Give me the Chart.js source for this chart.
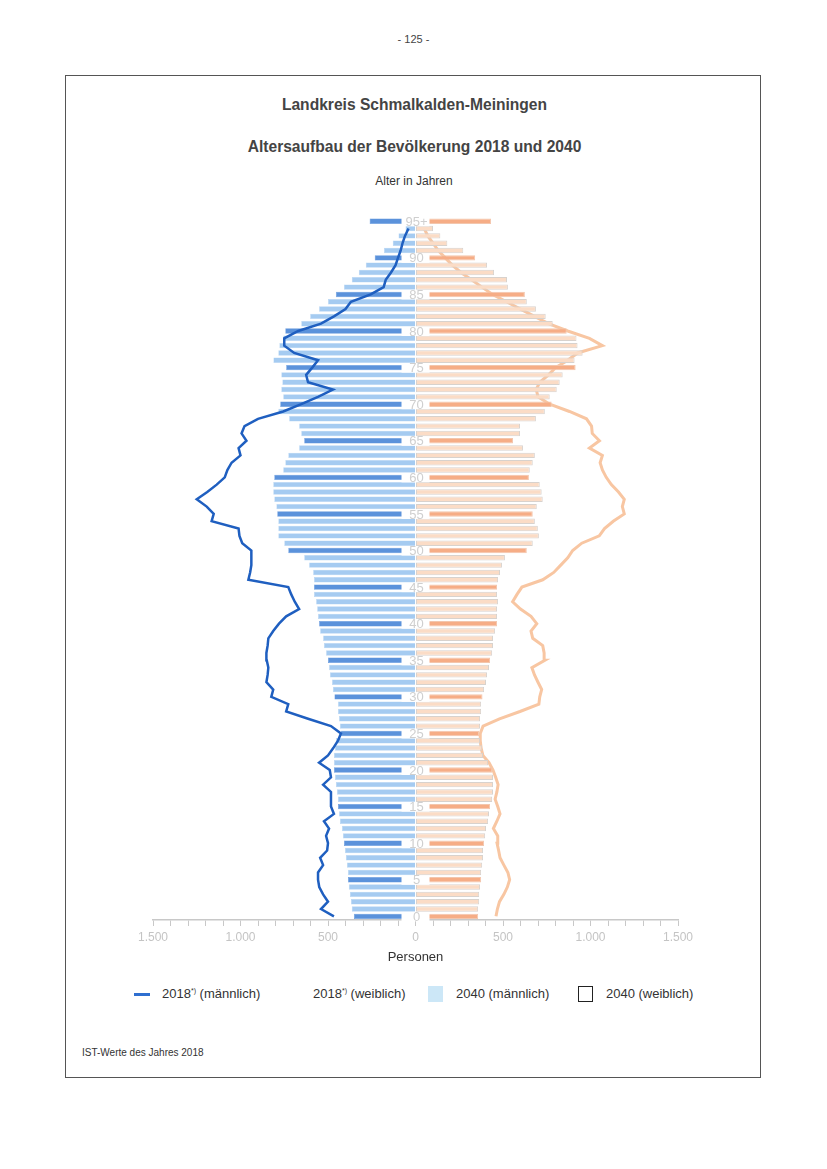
<!DOCTYPE html>
<html lang="de">
<head>
<meta charset="utf-8">
<title>Altersaufbau Schmalkalden-Meiningen</title>
<script src="https://cdn.jsdelivr.net/npm/chart.js@4.4.1/dist/chart.umd.min.js"></script>
<style>
  body { margin: 0; width: 827px; height: 1169px; position: relative; background: #fff;
         font-family: "Liberation Sans", Arial, sans-serif; color: #3a3a3a; }
  .abs { position: absolute; white-space: nowrap; }
  #page { left: 0; width: 827px; top: 33px; text-align: center; font-size: 11px; color: #444; }
  #frame { left: 65px; top: 75px; width: 694px; height: 1001px; border: 1px solid #555; }
  .title { left: 0; width: 829px; text-align: center; font-weight: bold; font-size: 15.6px; color: #444; }
  #sub { left: 0; width: 828px; top: 174px; text-align: center; font-size: 12px; color: #333; }
  #chartBox { left: 66px; top: 200px; width: 694px; height: 776px; }
  .leg { font-size: 13px; color: #333; top: 986px; }
  sup { font-size: 7px; }
  #foot { left: 82px; top: 1047px; font-size: 10px; color: #333; }
</style>
</head>
<body>
<div class="abs" id="page">- 125 -</div>
<div class="abs" id="frame"></div>
<div class="abs title" style="top:96px">Landkreis Schmalkalden-Meiningen</div>
<div class="abs title" style="top:138px">Altersaufbau der Bevölkerung 2018 und 2040</div>
<div class="abs" id="sub">Alter in Jahren</div>
<div class="abs" id="chartBox"><canvas id="chart"></canvas></div>

<div class="abs" style="left:134px;top:993px;width:16px;height:3px;background:#2f6fd0"></div>
<div class="abs leg" style="left:162px">2018<sup>*)</sup> (männlich)</div>
<div class="abs leg" style="left:313px">2018<sup>*)</sup> (weiblich)</div>
<div class="abs" style="left:428px;top:986px;width:15px;height:16px;background:#cce7f7"></div>
<div class="abs leg" style="left:456px">2040 (männlich)</div>
<div class="abs" style="left:578px;top:986px;width:13px;height:14px;border:1px solid #222;background:#fff"></div>
<div class="abs leg" style="left:606px">2040 (weiblich)</div>
<div class="abs" id="foot">IST-Werte des Jahres 2018</div>

<script>
// ages 0 .. 95+
const ages = [];
for (let a = 0; a <= 95; a++) ages.push(a === 95 ? '95+' : String(a));

// 2040 projection (persons per age year)
const male2040 = [352, 364, 369, 375, 381, 386, 386, 392, 398, 403,
  409, 415, 420, 432, 437, 443, 443, 449, 455, 460,
  466, 466, 466, 460, 455, 426, 432, 437, 443, 443,
  463, 472, 477, 489, 494, 500, 511, 523, 528, 545,
  551, 557, 562, 568, 580, 580, 580, 585, 608, 636,
  727, 750, 784, 784, 784, 790, 795, 807, 813, 813,
  807, 756, 744, 727, 665, 636, 653, 665, 722, 784,
  773, 756, 767, 761, 767, 739, 812, 784, 778, 756,
  744, 653, 602, 551, 500, 455, 409, 364, 324, 284,
  233, 180, 130, 97, 57, 262];

const female2040 = [358, 358, 364, 364, 369, 375, 375, 381, 386, 386,
  392, 398, 403, 415, 420, 426, 438, 443, 443, 443,
  438, 415, 386, 381, 369, 364, 369, 369, 375, 375,
  383, 392, 403, 409, 420, 426, 438, 443, 443, 455,
  466, 466, 466, 472, 466, 466, 472, 483, 494, 511,
  636, 670, 705, 699, 682, 670, 693, 727, 721, 710,
  648, 653, 670, 682, 614, 557, 597, 597, 688, 739,
  778, 767, 807, 824, 841, 915, 909, 955, 926, 920,
  864, 784, 744, 688, 636, 625, 528, 523, 449, 409,
  341, 273, 182, 142, 100, 432];

// 2018 actual values
const male2018 = [466, 540, 500, 528, 550, 557, 557, 528, 545, 505,
  500, 511, 494, 523, 466, 483, 483, 483, 528, 483,
  490, 551, 500, 470, 443, 426, 483, 614, 739, 727,
  824, 813, 852, 845, 841, 850, 852, 845, 841, 813,
  780, 739, 665, 690, 710, 727, 955, 945, 938, 938,
  938, 990, 1006, 1011, 1165, 1153, 1193, 1250, 1190, 1136,
  1090, 1075, 1051, 1000, 1011, 966, 994, 977, 900, 756,
  653, 557, 472, 614, 625, 590, 557, 693, 750, 750,
  670, 540, 466, 400, 369, 256, 182, 170, 140, 114,
  100, 85, 74, 60, 40, null];

const female2018 = [460, 468, 480, 505, 525, 538, 528, 505, 483, 475,
  466, 470, 445, 465, 483, 470, 455, 465, 472, 458,
  443, 420, 385, 375, 370, 370, 386, 480, 597, 705,
  710, 721, 700, 680, 665, 739, 735, 727, 670, 660,
  693, 660, 600, 555, 580, 608, 727, 790, 830, 870,
  898, 950, 1050, 1080, 1130, 1193, 1182, 1193, 1160, 1119,
  1090, 1068, 1055, 1068, 994, 1051, 1010, 1006, 977, 880,
  767, 700, 690, 710, 760, 800, 870, 926, 1068, 994,
  870, 760, 680, 600, 520, 440, 380, 320, 260, 210,
  170, 130, 100, 70, 50, null];

const xTicksMajor = 500;

const isMark = i => i % 5 === 0;

// white boxes with the age labels in the middle of the pyramid
const ageLabels = {
  id: 'ageLabels',
  afterDatasetsDraw(chart) {
    const { ctx, scales } = chart;
    const x0 = scales.x.getPixelForValue(0);
    ctx.save();
    ctx.font = '13px "Liberation Sans", Arial, sans-serif';
    ctx.textAlign = 'center';
    ctx.textBaseline = 'middle';
    ages.forEach((lab, i) => {
      if (!isMark(i)) return;
      const y = scales.y.getPixelForValue(i);
      ctx.fillStyle = '#fff';
      ctx.fillRect(x0 - 14, y - 4, 28, 9);
      ctx.fillStyle = '#cfcfcf';
      ctx.fillText(lab, x0 + 1, y + 1);
    });
    ctx.restore();
  }
};

new Chart(document.getElementById('chart'), {
  data: {
    labels: ages,
    datasets: [
      {
        type: 'line', label: '2018 (männlich)',
        data: male2018.map(v => v === null ? null : -v),
        borderColor: '#1f5fc0', borderWidth: 2.5, pointRadius: 0, tension: 0, order: 1
      },
      {
        type: 'bar', label: '2040 (männlich)',
        data: male2040.map(v => -v),
        backgroundColor: ages.map((a, i) => isMark(i) ? '#5b92db' : '#a5cbf1'),
        borderColor: ages.map((a, i) => isMark(i) ? '#5b92db' : '#b9d6f3'),
        borderWidth: 0.5, grouped: false,
        categoryPercentage: 1, barPercentage: 0.74, order: 2
      },
      {
        type: 'bar', label: '2040 (weiblich)',
        data: female2040,
        backgroundColor: ages.map((a, i) => isMark(i) ? '#f6ad86' : '#fbdcc6'),
        borderColor: ages.map((a, i) => isMark(i) ? '#f3c6ad' : '#d8d2cd'),
        borderWidth: 1, borderSkipped: false, grouped: false,
        categoryPercentage: 1, barPercentage: 0.74, order: 2
      },
      {
        type: 'line', label: '2018 (weiblich)',
        data: female2018,
        borderColor: '#f8c6a2', borderWidth: 3, pointRadius: 0, tension: 0, order: 3
      }
    ]
  },
  options: {
    indexAxis: 'y',
    responsive: true,
    maintainAspectRatio: false,
    animation: false,
    layout: { padding: { left: 87, right: 82, top: 17.6, bottom: 7 } },
    plugins: { legend: { display: false }, tooltip: { enabled: false } },
    scales: {
      y: { type: 'category', reverse: true, display: false, offset: true },
      x: {
        type: 'linear', min: -1500, max: 1500,
        ticks: {
          stepSize: 100, autoSkip: false, maxRotation: 0, padding: 4,
          color: '#c4c4c4', font: { size: 12, family: '"Liberation Sans", Arial, sans-serif' },
          callback: v => v % xTicksMajor === 0 ? Math.abs(v).toLocaleString('de-DE') : ''
        },
        grid: { drawOnChartArea: false, drawTicks: true, tickLength: 6, color: '#c8c8c8' },
        border: { color: '#c8c8c8', width: 1.5 },
        title: {
          display: true, text: 'Personen', color: '#333', padding: { top: 1, bottom: 4 },
          font: { size: 13, family: '"Liberation Sans", Arial, sans-serif' }
        }
      }
    }
  },
  plugins: [ageLabels]
});
</script>
</body>
</html>
